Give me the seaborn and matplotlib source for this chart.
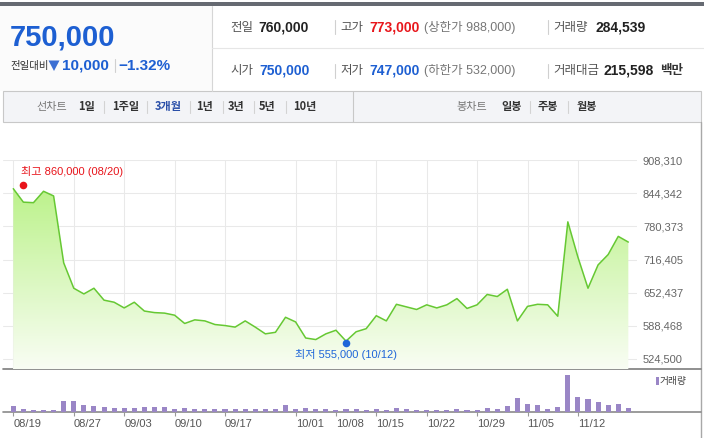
import numpy as np
import pandas as pd
import seaborn as sns
import matplotlib.pyplot as plt
from matplotlib.patches import Rectangle, Polygon, PathPatch
from matplotlib.colors import LinearSegmentedColormap

sns.set_style("white")
plt.rcParams["font.family"] = ["Liberation Sans", "Noto Sans CJK KR", "DejaVu Sans"]

# trading days shown on the chart
dates = ["08/19", "08/20", "08/21", "08/22", "08/23", "08/26", "08/27", "08/28", "08/29", "08/30",
         "09/02", "09/03", "09/04", "09/05", "09/06", "09/09", "09/10", "09/11", "09/12", "09/13",
         "09/16", "09/17", "09/23", "09/24", "09/25", "09/26", "09/27", "09/30", "10/01", "10/02",
         "10/04", "10/07", "10/08", "10/10", "10/11", "10/14", "10/15", "10/16", "10/17", "10/18",
         "10/21", "10/22", "10/23", "10/24", "10/25", "10/28", "10/29", "10/30", "10/31", "11/01",
         "11/04", "11/05", "11/06", "11/07", "11/08", "11/11", "11/12", "11/13", "11/14", "11/15",
         "11/18", "11/19"]
close = [853000, 827000, 826000, 848000, 839000, 710000, 661000, 650000, 661000, 638000,
         634000, 623000, 634000, 617000, 614000, 613000, 609000, 593000, 600000, 598000,
         591000, 589000, 586000, 598000, 586000, 573000, 576000, 605000, 596000, 565000,
         562000, 573000, 580000, 559000, 577000, 583000, 608000, 598000, 630000, 625000,
         620000, 629000, 623000, 629000, 641000, 622000, 629000, 649000, 645000, 659000,
         598000, 626000, 630000, 629000, 607000, 789000, 721000, 661000, 706000, 726000,
         761000, 750000]
volume = [478000, 241000, 129000, 118000, 124000, 1002000, 1015000, 583000, 486000, 392000,
          301000, 298000, 305000, 396000, 402000, 388000, 221000, 297000, 215000, 224000,
          218000, 209000, 221000, 217000, 213000, 226000, 219000, 574000, 212000, 303000,
          216000, 222000, 131000, 218000, 214000, 127000, 223000, 132000, 301000, 219000,
          128000, 134000, 122000, 126000, 214000, 129000, 131000, 296000, 218000, 487000,
          1221000, 676000, 583000, 214000, 394000, 3402000, 1318000, 1129000, 862000, 578000,
          671000, 284539]
tick_dates = ["08/19", "08/27", "09/03", "09/10", "09/17", "10/01", "10/08",
              "10/15", "10/22", "10/29", "11/05", "11/12"]
price_ticks = [524500, 588468, 652437, 716405, 780373, 844342, 908310]
high_value, high_date = 860000, "08/20"
low_value, low_date, low_label_date = 555000, "10/10", "10/12"

df = pd.DataFrame({"i": np.arange(len(dates)), "close": close, "volume": volume})
tick_idx = [dates.index(d) for d in tick_dates]

W, H = 704, 438
fig = plt.figure(figsize=(W / 100, H / 100), dpi=100)


def box(l, t, r, b):
    return [l / W, 1 - b / H, (r - l) / W, (b - t) / H]


# ---- background / header drawn in pixel coordinates
bg = fig.add_axes([0, 0, 1, 1], zorder=0)
bg.set_xlim(0, W)
bg.set_ylim(H, 0)
bg.axis("off")

bg.add_patch(Rectangle((0, 2), W, 3.5, color="#666a72", lw=0))
bg.add_patch(Rectangle((0, 5.5), 211.5, 85.5, color="#fbfbfb", lw=0))
bg.plot([211.5, 211.5], [5.5, 91], color="#d6d6d6", lw=0.8)
bg.plot([211.5, W], [48, 48], color="#e6e6e6", lw=0.8)

blue = "#1d5fd2"
bg.text(9.5, 38, "750,000", fontsize=21, fontweight="bold", color=blue, va="center")
bg.text(10, 65.5, "전일대비", fontsize=7.5, color="#333333", va="center",
        family=["Noto Sans CJK KR"])
bg.add_patch(Polygon([(48.5, 60.5), (59.5, 60.5), (54, 71)], closed=True,
                     color="#3c6fd3", lw=0))
bg.text(62, 65.5, "10,000", fontsize=11, fontweight="bold", color=blue, va="center")
bg.plot([114.5, 114.5], [59, 72], color="#d0d0d0", lw=0.8)
bg.text(118.5, 65.5, "\u22121.32%", fontsize=11, fontweight="bold", color=blue, va="center")

kor = ["Noto Sans CJK KR"]
rows = [
    (27, [("전일", 230, "#555555", "normal", 9, kor), ("760,000", 258, "#222222", "bold", 10, None),
          ("고가", 340, "#555555", "normal", 9, kor), ("773,000", 369, "#e8161b", "bold", 10, None),
          ("(상한가 988,000)", 424, "#777777", "normal", 9, None),
          ("거래량", 553, "#555555", "normal", 9, kor), ("284,539", 595, "#222222", "bold", 10, None)]),
    (70.5, [("시가", 230, "#555555", "normal", 9, kor), ("750,000", 259, blue, "bold", 10, None),
            ("저가", 340, "#555555", "normal", 9, kor), ("747,000", 369, blue, "bold", 10, None),
            ("(하한가 532,000)", 424, "#777777", "normal", 9, None),
            ("거래대금", 553, "#555555", "normal", 9, kor), ("215,598", 604, "#222222", "bold", 10, None),
            ("백만", 660, "#333333", "bold", 9, kor)]),
]
for y, items in rows:
    for s, x, c, w, fs, fam in items:
        kw = {"family": fam} if fam else {}
        bg.text(x, y, s, fontsize=fs, color=c, fontweight=w, va="center", **kw)
    for sx in (334.5, 548):
        bg.plot([sx, sx], [y - 7, y + 7], color="#d0d0d0", lw=0.8)

# nav bar
bg.add_patch(Rectangle((3, 91), 698, 31.3, facecolor="#f3f4f7", edgecolor="#c8c8c8", lw=0.8))
bg.plot([353.3, 353.3], [91, 122.3], color="#c8c8c8", lw=0.8)
nav = [("선차트", 52, "#777777", "normal"), ("1일", 86.5, "#333333", "bold"),
       ("1주일", 125.5, "#333333", "bold"), ("3개월", 168.5, "#2a4fa8", "bold"),
       ("1년", 205, "#333333", "bold"), ("3년", 236, "#333333", "bold"),
       ("5년", 267, "#333333", "bold"), ("10년", 305, "#333333", "bold"),
       ("봉차트", 472, "#777777", "normal"), ("일봉", 512, "#333333", "bold"),
       ("주봉", 548, "#333333", "bold"), ("월봉", 587, "#333333", "bold")]
for s, x, c, w in nav:
    bg.text(x, 106.7, s, fontsize=8, color=c, fontweight=w, ha="center", va="center",
            family=["Noto Sans CJK KR"])
for sx in (104, 147, 190, 223, 254, 286, 530, 568):
    bg.plot([sx, sx], [101, 112.5], color="#d3d3d3", lw=0.8)

# chart frame lines
bg.plot([3, 701], [369, 369], color="#7d7d7d", lw=1.2, zorder=5)
bg.plot([3, 701], [411.5, 411.5], color="#8a8a8a", lw=1.2, zorder=5)
bg.plot([701, 701], [122.3, H], color="#a8a8a8", lw=1.0)

# ---- price panel
xlim = (-0.99, 61.83)
ybot = 524500 - (369 - 359) * (908310 - 524500) / 199
ax = fig.add_axes(box(3.3, 160, 636.7, 369), zorder=2)
ax.set_facecolor("none")

poly = ax.fill_between(df["i"], df["close"], ybot, color="none", lw=0)
cmap = LinearSegmentedColormap.from_list("g", ["#f9fdf4", "#bcf28b"])
grad = np.linspace(0, 1, 256).reshape(-1, 1)
im = ax.imshow(grad, aspect="auto", origin="lower", cmap=cmap,
               extent=[xlim[0], xlim[1], ybot, max(close)], zorder=1)
im.set_clip_path(PathPatch(poly.get_paths()[0], transform=ax.transData))

sns.lineplot(data=df, x="i", y="close", ax=ax, color="#66c833", linewidth=1.1, zorder=3)

hi = dates.index(high_date)
lo = dates.index(low_date)
ax.scatter([hi], [high_value], s=30, color="#e8141b", zorder=4, lw=0)
ax.scatter([lo], [low_value], s=30, color="#1f66d9", zorder=4, lw=0)
ax.annotate(f"최고 {high_value:,} ({high_date})", (hi, high_value), xytext=(-1.9, 10),
            textcoords="offset points", ha="left", va="center", fontsize=8, color="#e8141b")
ax.annotate(f"최저 {low_value:,} ({low_label_date})", (lo, low_value), xytext=(-37, -8.5),
            textcoords="offset points", ha="left", va="center", fontsize=8, color="#1f66d9")

ax.set_xlim(*xlim)
ax.set_ylim(ybot, 908310)
ax.set_xticks(tick_idx)
ax.set_yticks(price_ticks)
ax.set_yticklabels([f"{v:,}" for v in price_ticks])
ax.yaxis.tick_right()
ax.tick_params(axis="x", length=0, labelbottom=False)
ax.tick_params(axis="y", length=0, pad=4.5, labelsize=8, labelcolor="#666666")
ax.grid(True, color="#e9e9e9", lw=0.75)
ax.set_axisbelow(True)
ax.set_xlabel("")
ax.set_ylabel("")
for sp in ax.spines.values():
    sp.set_visible(False)

# ---- volume panel
axv = fig.add_axes(box(3.3, 369, 636.7, 411.5), zorder=2)
axv.set_facecolor("none")
sns.barplot(data=df, x="i", y="volume", ax=axv, native_scale=True, width=0.5,
            color="#9a86c6", saturation=1, linewidth=0, errorbar=None)
axv.set_xlim(*xlim)
axv.set_ylim(0, max(volume) * 42.5 / 36.5)
axv.set_xticks(tick_idx)
axv.set_xticklabels(tick_dates, ha="left")
axv.set_yticks([])
axv.tick_params(axis="x", direction="out", length=3, width=0.8, color="#999999",
                pad=2.5, labelsize=8, labelcolor="#555555", bottom=True)
axv.set_xlabel("")
axv.set_ylabel("")
for sp in axv.spines.values():
    sp.set_visible(False)

# volume legend
bg.add_patch(Rectangle((655.5, 377), 3, 7.5, color="#9a86c6", lw=0))
bg.text(660, 381, "거래량", fontsize=7, color="#444444", va="center", family=["Noto Sans CJK KR"])

fig.savefig("out.png", dpi=100)
